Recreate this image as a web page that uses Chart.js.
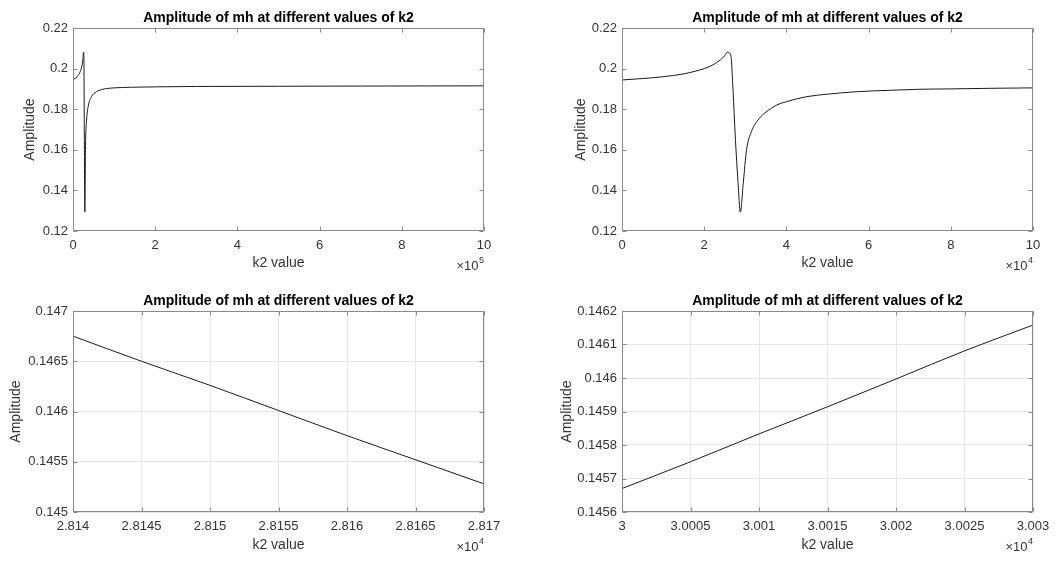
<!DOCTYPE html>
<html>
<head>
<meta charset="utf-8">
<script src="https://cdn.jsdelivr.net/npm/chart.js@4.4.1/dist/chart.umd.min.js"></script>
<style>
  body { margin: 0; background: #fff; }
  #wrap { position: relative; width: 1061px; height: 561px; overflow: hidden; }
  canvas { position: absolute; }
</style>
</head>
<body>
<div id="wrap">
  <canvas id="c1" width="530" height="280" style="left:0;top:0"></canvas>
  <canvas id="c2" width="531" height="280" style="left:530px;top:0"></canvas>
  <canvas id="c3" width="530" height="281" style="left:0;top:280px"></canvas>
  <canvas id="c4" width="531" height="281" style="left:530px;top:280px"></canvas>
</div>
<script>
// Amplitude of mh vs k2, four zoom levels

// full range 0 .. 1e6
const k2Full = [0, 10000, 20000, 24000, 25600, 26600, 27600, 28800, 30300, 33300, 37700,
    45000, 57000, 72000, 100000, 140000, 200000, 300000, 500000, 700000, 1000000];
const ampFull = [0.1945, 0.1960, 0.2000, 0.2044, 0.2081, 0.2045, 0.1650, 0.1293, 0.1600, 0.1752, 0.1821,
    0.1862, 0.1886, 0.1898, 0.1905, 0.1908, 0.1910, 0.1912, 0.1913, 0.1914, 0.1915];

// 0 .. 1e5
const k2Mid = [0, 5000, 10000, 15000, 18000, 20000, 22000, 24000, 25000, 25600, 26200, 26600,
    27000, 27600, 28200, 28800, 29500, 30300, 31500, 33300, 35000, 37700, 40000, 45000,
    50000, 57000, 65000, 72000, 80000, 90000, 100000];
const ampMid = [0.1944, 0.1951, 0.1960, 0.1974, 0.1988, 0.2000, 0.2017, 0.2044, 0.2064, 0.2081, 0.2076, 0.2045,
    0.1900, 0.1650, 0.1450, 0.1293, 0.1435, 0.1600, 0.1690, 0.1752, 0.1785, 0.1821, 0.1837, 0.1862,
    0.1874, 0.1886, 0.1893, 0.1898, 0.1900, 0.1903, 0.1905];

// 28140 .. 28170
const k2Low = [28140, 28145, 28150, 28155, 28160, 28165, 28170];
const ampLow = [0.14675, 0.14650, 0.14626, 0.14601, 0.14576, 0.14552, 0.14528];

// 30000 .. 30030
const k2High = [30000, 30005, 30010, 30015, 30020, 30025, 30030];
const ampHigh = [0.14567, 0.14575, 0.145833, 0.145914, 0.145997, 0.146081, 0.146158];

// tick labels (x labels are shown in units of 10^exp)
const xTicksFull = [0, 2, 4, 6, 8, 10];
const xTicksMid = [0, 2, 4, 6, 8, 10];
const xTicksLow = [2.814, 2.8145, 2.815, 2.8155, 2.816, 2.8165, 2.817];
const xTicksHigh = [3, 3.0005, 3.001, 3.0015, 3.002, 3.0025, 3.003];
const yTicksWide = [0.12, 0.14, 0.16, 0.18, 0.2, 0.22];
const yTicksLow = [0.145, 0.1455, 0.146, 0.1465, 0.147];
const yTicksHigh = [0.1456, 0.1457, 0.1458, 0.1459, 0.146, 0.1461, 0.1462];

const TITLE = 'Amplitude of mh at different values of k2';
const FONT = '"Liberation Sans", Arial, Helvetica, sans-serif';
const AXIS_GRAY = '#8a8a8a';

Chart.defaults.font.family = FONT;
Chart.defaults.font.size = 13;
Chart.defaults.color = '#333';

// box, inward ticks, title and the x10^n note, drawn like MATLAB axes
const matlabAxes = {
    id: 'matlabAxes',
    afterDraw(chart, args, opts) {
        const { ctx, chartArea: a, scales } = chart;
        const l = Math.round(a.left) + 0.5, r = Math.round(a.right) - 0.5;
        const t = Math.round(a.top) + 0.5, b = Math.round(a.bottom) - 0.5;
        ctx.save();
        ctx.strokeStyle = AXIS_GRAY;
        ctx.lineWidth = 1;
        ctx.strokeRect(l, t, r - l, b - t);
        ctx.beginPath();
        scales.x.ticks.forEach(tk => {
            const px = Math.round(scales.x.getPixelForValue(tk.value)) + 0.5;
            ctx.moveTo(px, b); ctx.lineTo(px, b - 4);
            ctx.moveTo(px, t); ctx.lineTo(px, t + 4);
        });
        scales.y.ticks.forEach(tk => {
            const py = Math.round(scales.y.getPixelForValue(tk.value)) + 0.5;
            ctx.moveTo(l, py); ctx.lineTo(l + 4, py);
            ctx.moveTo(r, py); ctx.lineTo(r - 4, py);
        });
        ctx.stroke();

        ctx.fillStyle = '#000';
        ctx.font = 'bold 14px ' + FONT;
        ctx.textAlign = 'center';
        ctx.textBaseline = 'middle';
        ctx.fillText(TITLE, (a.left + a.right) / 2, a.top - 9.5);

        ctx.fillStyle = '#333';
        ctx.textBaseline = 'alphabetic';
        ctx.textAlign = 'right';
        ctx.font = '9px ' + FONT;
        const sup = String(opts.exp);
        const supW = ctx.measureText(sup).width;
        ctx.fillText(sup, a.right, a.bottom + 32);
        ctx.font = '13px ' + FONT;
        ctx.fillText('\u00d710', a.right - supW - 0.5, a.bottom + 39);
        ctx.restore();
    }
};

function makeChart(id, box, k2, amp, xTicks, exp, yTicks, showGrid) {
    const canvas = document.getElementById(id);
    const mult = Math.pow(10, exp);
    const xVals = xTicks.map(v => Math.round(v * mult));
    const points = k2.map((k, i) => ({ x: k, y: amp[i] }));
    const gridColor = showGrid ? '#e6e6e6' : 'rgba(0,0,0,0)';

    return new Chart(canvas, {
        type: 'line',
        data: {
            datasets: [{
                data: points,
                borderColor: '#1a1a1a',
                borderWidth: 1,
                pointRadius: 0,
                cubicInterpolationMode: 'monotone',
                fill: false
            }]
        },
        options: {
            responsive: false,
            animation: false,
            events: [],
            layout: {
                padding: { left: 0, top: box.top, right: canvas.width - box.right, bottom: 0 }
            },
            plugins: {
                legend: { display: false },
                tooltip: { enabled: false },
                matlabAxes: { exp: exp }
            },
            scales: {
                x: {
                    type: 'linear',
                    min: xVals[0],
                    max: xVals[xVals.length - 1],
                    afterBuildTicks: scale => { scale.ticks = xVals.map(v => ({ value: v })); },
                    afterFit: scale => { scale.height = canvas.height - box.bottom; },
                    ticks: {
                        padding: 7,
                        maxRotation: 0,
                        callback: (value, index) => String(xTicks[index])
                    },
                    grid: { color: gridColor, drawTicks: false },
                    border: { display: false },
                    title: {
                        display: true,
                        text: 'k2 value',
                        color: '#333',
                        font: { size: 14 },
                        padding: { top: 0, bottom: box.xlab }
                    }
                },
                y: {
                    type: 'linear',
                    min: yTicks[0],
                    max: yTicks[yTicks.length - 1],
                    afterBuildTicks: scale => { scale.ticks = yTicks.map(v => ({ value: v })); },
                    afterFit: scale => { scale.width = box.left; },
                    ticks: {
                        padding: 5,
                        callback: (value, index) => String(yTicks[index])
                    },
                    grid: { color: gridColor, drawTicks: false },
                    border: { display: false },
                    title: {
                        display: true,
                        text: 'Amplitude',
                        color: '#333',
                        font: { size: 14 },
                        padding: { top: box.ylab - 8.4, bottom: 0 }
                    }
                }
            }
        },
        plugins: [matlabAxes]
    });
}

makeChart('c1', { left: 73, right: 484, top: 28, bottom: 231, ylab: 30.5, xlab: 8.5 },
    k2Full, ampFull, xTicksFull, 5, yTicksWide, false);
makeChart('c2', { left: 92, right: 503, top: 28, bottom: 231, ylab: 51, xlab: 8.5 },
    k2Mid, ampMid, xTicksMid, 4, yTicksWide, false);
makeChart('c3', { left: 73, right: 484, top: 31, bottom: 232, ylab: 16.5, xlab: 7.5 },
    k2Low, ampLow, xTicksLow, 4, yTicksLow, true);
makeChart('c4', { left: 92, right: 503, top: 31, bottom: 232, ylab: 37, xlab: 7.5 },
    k2High, ampHigh, xTicksHigh, 4, yTicksHigh, true);
</script>
</body>
</html>
